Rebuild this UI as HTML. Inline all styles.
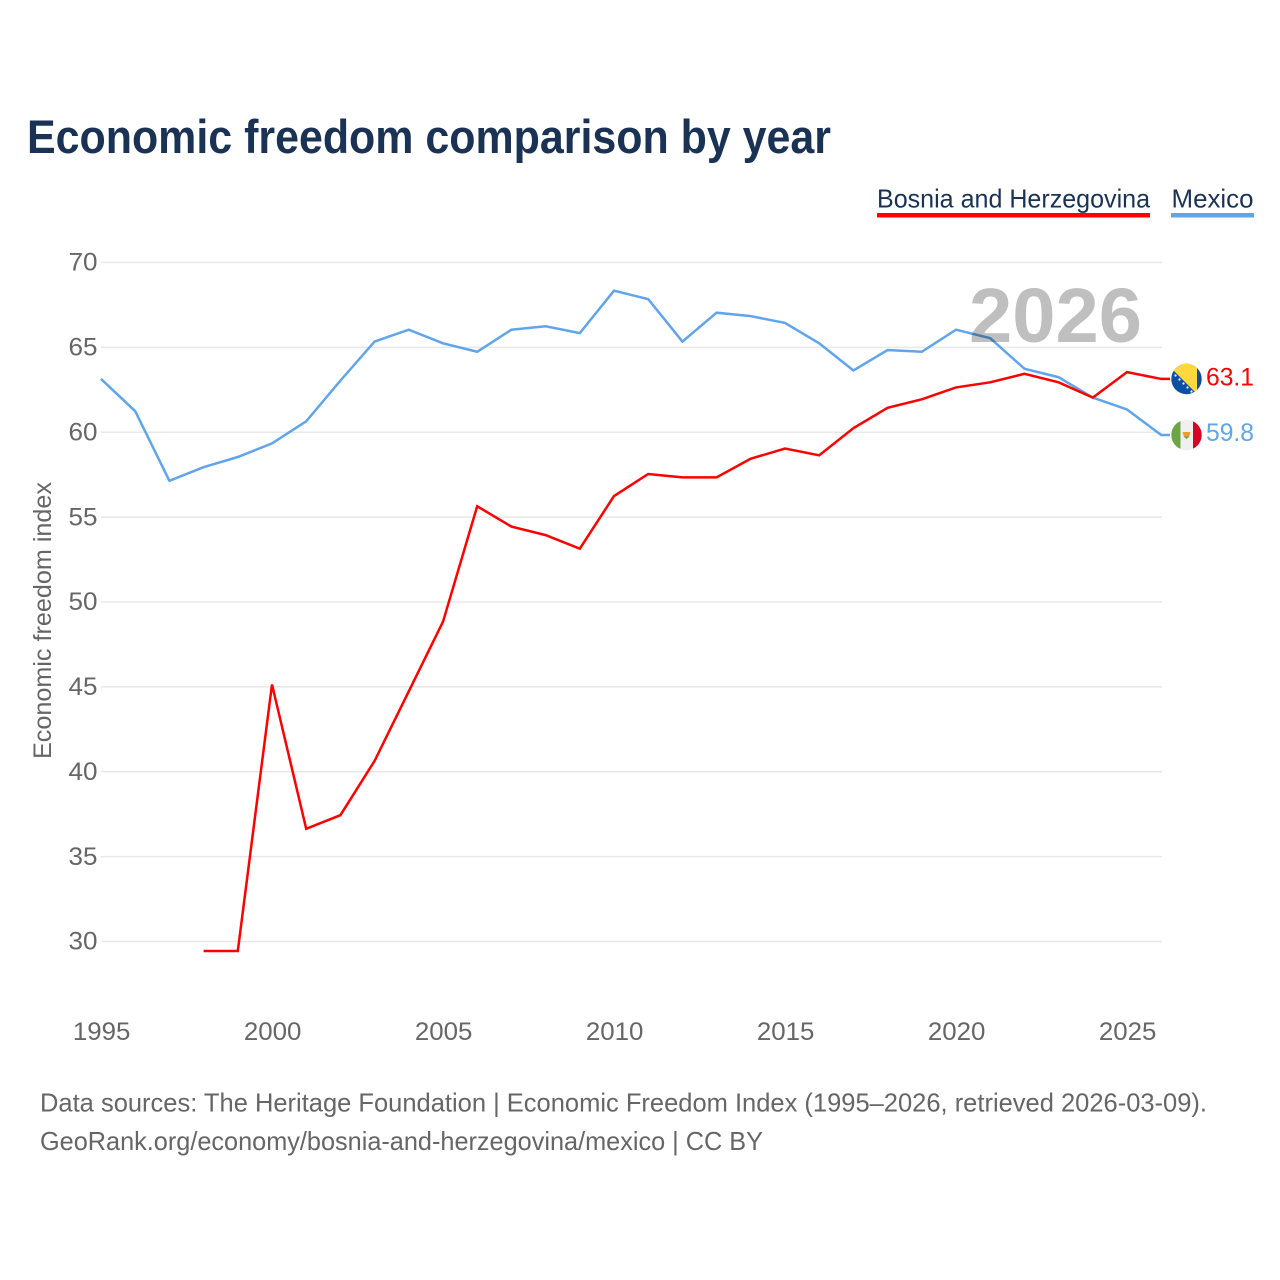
<!DOCTYPE html>
<html lang="en">
<head>
<meta charset="utf-8">
<title>Economic freedom comparison by year</title>
<style>
html,body{margin:0;padding:0;background:#fff;}
svg{display:block;font-family:"Liberation Sans",sans-serif;}
.tick{font-size:25px;fill:#666;}
.foot{font-size:26px;fill:#666;}
.legend{font-size:26px;fill:#1a3354;}
</style>
</head>
<body>
<svg id="chart" width="1280" height="1280" viewBox="0 0 1280 1280" xmlns="http://www.w3.org/2000/svg">
  <rect x="0" y="0" width="1280" height="1280" fill="#fff"/>
  <defs>
    <clipPath id="flag-clip-ba"><circle id="clip-ba" cx="1186.500" cy="379" r="15.200"/></clipPath>
    <clipPath id="flag-clip-mx"><circle id="clip-mx" cx="1186.500" cy="435" r="15.200"/></clipPath>
  </defs>

  <text x="27" y="153" font-size="47" font-weight="700" fill="#1a3354" textLength="804" lengthAdjust="spacingAndGlyphs">Economic freedom comparison by year</text>

  <g>
    <text class="legend" x="877" y="207.500" textLength="273" lengthAdjust="spacingAndGlyphs">Bosnia and Herzegovina</text>
    <rect x="877" y="213" width="273" height="4.500" fill="#ff0000"/>
  </g>
  <g>
    <text class="legend" x="1171.500" y="207.500" textLength="82" lengthAdjust="spacingAndGlyphs">Mexico</text>
    <rect x="1171" y="213" width="83" height="4.500" fill="#60a5ea"/>
  </g>

  <g id="grid"></g>
  <g id="y-ticks"></g>
  <g id="x-ticks"></g>

  <text transform="translate(51,759) rotate(-90)" font-size="25" fill="#666" textLength="277" lengthAdjust="spacingAndGlyphs">Economic freedom index</text>

  <g id="series"></g>

  <text x="969" y="342" font-size="77" font-weight="700" fill="#bfbfbf" style="mix-blend-mode:multiply" textLength="173" lengthAdjust="spacingAndGlyphs">2026</text>

  <g id="flag-ba" clip-path="url(#flag-clip-ba)">
    <rect x="1171" y="363" width="31" height="32" fill="#0b4ea2"/>
    <polygon points="1165,362 1197,362 1197,394" fill="#ffd83d"/>
    <g fill="#fff">
      <circle cx="1175.500" cy="375.500" r="1.100"/><circle cx="1179.500" cy="379.500" r="1.100"/><circle cx="1183.500" cy="383.500" r="1.100"/><circle cx="1187.500" cy="387.500" r="1.100"/><circle cx="1191.500" cy="391.500" r="1.100"/>
    </g>
  </g>
  <g id="flag-mx" clip-path="url(#flag-clip-mx)">
    <rect x="1171" y="419" width="31" height="32" fill="#f0f0f0"/>
    <rect x="1171" y="419" width="9.500" height="32" fill="#6da544"/>
    <rect x="1193" y="419" width="9" height="32" fill="#d80027"/>
    <path d="M1182.500 432h8l-1.500 5h-5z" fill="#f39a2e"/>
    <path d="M1183.500 436.500h6l-3 2.500z" fill="#6da544"/>
  </g>

  <text id="value-ba" x="1254" y="385.500" text-anchor="end" font-size="25" fill="#ff0000" textLength="48" lengthAdjust="spacingAndGlyphs"></text>
  <text id="value-mx" x="1254" y="441" text-anchor="end" font-size="25" fill="#60a5ea" textLength="48" lengthAdjust="spacingAndGlyphs"></text>

  <text class="foot" x="40" y="1111.500" textLength="1167" lengthAdjust="spacingAndGlyphs">Data sources: The Heritage Foundation | Economic Freedom Index (1995–2026, retrieved 2026-03-09).</text>
  <text class="foot" x="40" y="1150" textLength="723" lengthAdjust="spacingAndGlyphs">GeoRank.org/economy/bosnia-and-herzegovina/mexico | CC BY</text>
</svg>
<script>
var years = [1995,1996,1997,1998,1999,2000,2001,2002,2003,2004,2005,2006,2007,2008,2009,2010,2011,2012,2013,2014,2015,2016,2017,2018,2019,2020,2021,2022,2023,2024,2025,2026];
var bosniaValues = [null,null,null,29.4,29.4,45.1,36.6,37.4,40.6,44.7,48.8,55.6,54.4,53.9,53.1,56.2,57.5,57.3,57.3,58.4,59.0,58.6,60.2,61.4,61.9,62.6,62.9,63.4,62.9,62.0,63.5,63.1];
var mexicoValues = [63.1,61.2,57.1,57.9,58.5,59.3,60.6,63.0,65.3,66.0,65.2,64.7,66.0,66.2,65.8,68.3,67.8,65.3,67.0,66.8,66.4,65.2,63.6,64.8,64.7,66.0,65.5,63.7,63.2,62.0,61.3,59.8];
var yTicks = [30,35,40,45,50,55,60,65,70];
var xTicks = [1995,2000,2005,2010,2015,2020,2025];

var NS = 'http://www.w3.org/2000/svg';
function xScale(year) { return 101 + (year - 1995) * 34.2; }
function yScale(v) { return 941.5 - (v - 30) * (941.5 - 262.5) / 40; }
function yLine(v) { return yScale(v) - 0.7; }

var gridGroup = document.getElementById('grid');
var yGroup = document.getElementById('y-ticks');
var xGroup = document.getElementById('x-ticks');
var seriesGroup = document.getElementById('series');

yTicks.forEach(function (t) {
  var line = document.createElementNS(NS, 'line');
  
  
  line.setAttribute('x1', 101);
  line.setAttribute('x2', 1162);
  line.setAttribute('y1', yScale(t));
  line.setAttribute('y2', yScale(t));
  line.setAttribute('stroke', '#e8e8e8');
  line.setAttribute('stroke-width', '1.500');
  gridGroup.appendChild(line);

  var label = document.createElementNS(NS, 'text');
  
  
  label.setAttribute('class', 'tick');
  label.setAttribute('x', 97.5);
  label.setAttribute('y', yScale(t) + 8.2);
  label.setAttribute('text-anchor', 'end');
  label.setAttribute('textLength', '29');
  label.setAttribute('lengthAdjust', 'spacingAndGlyphs');
  label.textContent = String(t);
  yGroup.appendChild(label);
});

xTicks.forEach(function (t) {
  var label = document.createElementNS(NS, 'text');
  
  
  label.setAttribute('class', 'tick');
  label.setAttribute('x', xScale(t) + 0.7);
  label.setAttribute('y', 1040);
  label.setAttribute('text-anchor', 'middle');
  label.setAttribute('textLength', '57.5');
  label.setAttribute('lengthAdjust', 'spacingAndGlyphs');
  label.textContent = String(t);
  xGroup.appendChild(label);
});

function pathFor(values) {
  var d = '';
  var last = null;
  values.forEach(function (v, i) {
    if (v === null) { return; }
    d += (d === '' ? 'M' : 'L') + xScale(years[i]).toFixed(2) + ' ' + yLine(v).toFixed(2);
    last = v;
  });
  d += 'L1170 ' + yLine(last).toFixed(2);
  return d;
}

var mexicoLine = document.createElementNS(NS, 'path');


mexicoLine.setAttribute('d', pathFor(mexicoValues));
mexicoLine.setAttribute('fill', 'none');
mexicoLine.setAttribute('stroke', '#60a5ea');
mexicoLine.setAttribute('stroke-width', '2.500');
seriesGroup.appendChild(mexicoLine);

var bosniaLine = document.createElementNS(NS, 'path');


bosniaLine.setAttribute('d', pathFor(bosniaValues));
bosniaLine.setAttribute('fill', 'none');
bosniaLine.setAttribute('stroke', '#ff0000');
bosniaLine.setAttribute('stroke-width', '2.500');
seriesGroup.appendChild(bosniaLine);

document.getElementById('value-ba').textContent = bosniaValues[bosniaValues.length - 1].toFixed(1);
document.getElementById('value-mx').textContent = mexicoValues[mexicoValues.length - 1].toFixed(1);
</script>
</body>
</html>
